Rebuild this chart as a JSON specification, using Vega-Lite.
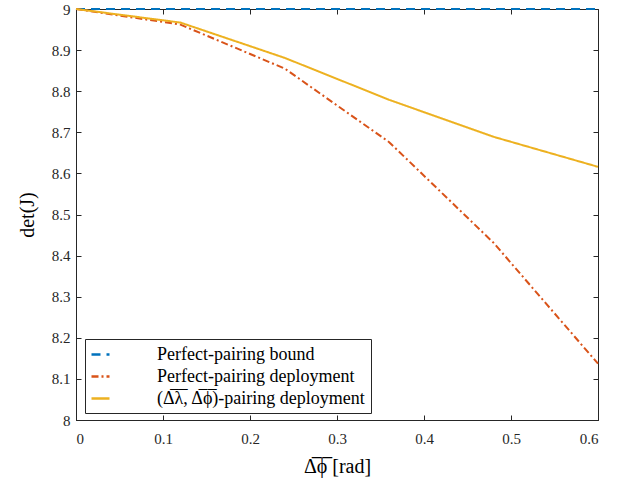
{
  "$schema": "https://vega.github.io/schema/vega-lite/v6.json",
  "autosize": {"type": "none"},
  "width": 522,
  "height": 411,
  "padding": {"left": 76, "top": 9, "right": 31, "bottom": 62},
  "background": "white",
  "config": {
    "font": "Liberation Serif",
    "view": {"stroke": "#262626", "strokeWidth": 1},
    "axis": {"grid": false, "domainColor": "#262626", "tickColor": "#262626", "labelColor": "#262626", "titleColor": "#000000", "labelFont": "Liberation Serif", "titleFont": "Liberation Serif", "labelFontSize": 15, "titleFontSize": 20, "titleFontWeight": "normal", "tickSize": -5}
  },
  "data": {"values": [
    {"series": "Perfect-pairing bound", "x": 0, "y": 9},
    {"series": "Perfect-pairing bound", "x": 0.12, "y": 9},
    {"series": "Perfect-pairing bound", "x": 0.24, "y": 9},
    {"series": "Perfect-pairing bound", "x": 0.36, "y": 9},
    {"series": "Perfect-pairing bound", "x": 0.48, "y": 9},
    {"series": "Perfect-pairing bound", "x": 0.6, "y": 9},
    {"series": "Perfect-pairing deployment", "x": 0, "y": 9},
    {"series": "Perfect-pairing deployment", "x": 0.12, "y": 8.962},
    {"series": "Perfect-pairing deployment", "x": 0.24, "y": 8.855},
    {"series": "Perfect-pairing deployment", "x": 0.36, "y": 8.676},
    {"series": "Perfect-pairing deployment", "x": 0.48, "y": 8.431},
    {"series": "Perfect-pairing deployment", "x": 0.6, "y": 8.137},
    {"series": "(Δ̅λ̅, Δ̅ϕ̅)-pairing deployment", "x": 0, "y": 9},
    {"series": "(Δ̅λ̅, Δ̅ϕ̅)-pairing deployment", "x": 0.12, "y": 8.967},
    {"series": "(Δ̅λ̅, Δ̅ϕ̅)-pairing deployment", "x": 0.24, "y": 8.881},
    {"series": "(Δ̅λ̅, Δ̅ϕ̅)-pairing deployment", "x": 0.36, "y": 8.779},
    {"series": "(Δ̅λ̅, Δ̅ϕ̅)-pairing deployment", "x": 0.48, "y": 8.689},
    {"series": "(Δ̅λ̅, Δ̅ϕ̅)-pairing deployment", "x": 0.6, "y": 8.616}
  ]},
  "layer": [
    {
      "mark": {"type": "line", "strokeWidth": 2, "clip": false},
      "encoding": {
        "x": {"field": "x", "type": "quantitative", "scale": {"domain": [0, 0.6], "nice": false, "zero": false},
          "axis": {"orient": "bottom", "values": [0, 0.1, 0.2, 0.3, 0.4, 0.5, 0.6], "format": "~g", "title": "Δ̅ϕ̅ [rad]", "labelPadding": 16, "titlePadding": 10}},
        "y": {"field": "y", "type": "quantitative", "scale": {"domain": [8, 9], "nice": false, "zero": false},
          "axis": {"orient": "left", "values": [8, 8.1, 8.2, 8.3, 8.4, 8.5, 8.6, 8.7, 8.8, 8.9, 9], "format": "~g", "title": "det(J)", "labelPadding": 11, "titlePadding": 14}},
        "color": {"field": "series", "type": "nominal",
          "scale": {"domain": ["Perfect-pairing bound", "Perfect-pairing deployment", "(Δ̅λ̅, Δ̅ϕ̅)-pairing deployment"], "range": ["#0072BD", "#D95319", "#EDB120"]},
          "legend": {"title": null, "orient": "none", "legendX": 9, "legendY": 330, "direction": "vertical", "symbolType": "M-1,0H1", "symbolSize": 324, "symbolStrokeWidth": 2.5, "labelFont": "Liberation Serif", "labelFontSize": 18, "labelColor": "#000000", "labelOffset": 46, "rowPadding": 2, "padding": 5, "strokeColor": "#262626", "fillColor": "white", "labelLimit": 400}},
        "strokeDash": {"field": "series", "type": "nominal",
          "scale": {"domain": ["Perfect-pairing bound", "Perfect-pairing deployment", "(Δ̅λ̅, Δ̅ϕ̅)-pairing deployment"], "range": [[9, 6], [7, 3, 2, 3], [1, 0]]},
          "legend": null},
        "order": {"field": "x", "type": "quantitative"}
      }
    },
    {
      "mark": {"type": "point", "opacity": 0},
      "encoding": {
        "x": {"field": "x", "type": "quantitative", "axis": {"orient": "top", "values": [0, 0.1, 0.2, 0.3, 0.4, 0.5, 0.6], "labels": false, "domain": false, "title": null}},
        "y": {"field": "y", "type": "quantitative", "axis": {"orient": "right", "values": [8, 8.1, 8.2, 8.3, 8.4, 8.5, 8.6, 8.7, 8.8, 8.9, 9], "labels": false, "domain": false, "title": null}}
      }
    }
  ],
  "resolve": {"axis": {"x": "independent", "y": "independent"}}
}
